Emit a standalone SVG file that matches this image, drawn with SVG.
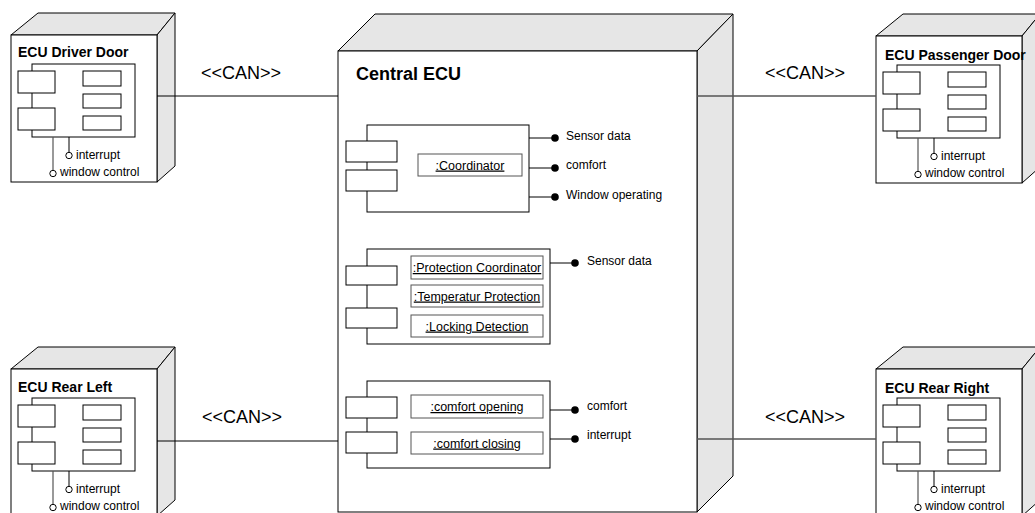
<svg xmlns="http://www.w3.org/2000/svg" xmlns:xlink="http://www.w3.org/1999/xlink" width="1035" height="513" viewBox="0 0 1035 513">
  <style>
    text { font-family: "Liberation Sans", Arial, sans-serif; fill: #000; }
    .face { fill: #e6e6e6; stroke: #000; stroke-width: 1; }
    .front { fill: #fff; stroke: #000; stroke-width: 1; }
    .box { fill: #fff; stroke: #000; stroke-width: 1; }
    .part { fill: #fff; stroke: #555; stroke-width: 1; }
    .wire { fill: none; stroke: #000; stroke-width: 1; }
    .wire2 { fill: none; stroke: #555; stroke-width: 1.2; }
    .req { fill: #fff; stroke: #000; stroke-width: 1; }
    .prov { fill: #000; stroke: none; }
    .title { font-size: 14px; font-weight: bold; }
    .big { font-size: 18px; font-weight: bold; }
    .stereo { font-size: 18px; }
    .port { font-size: 12px; }
    .lbl { font-size: 12.5px; text-anchor: middle; text-decoration: underline; }
    .link { fill: none; stroke: #000; stroke-width: 1; }
    .link2 { fill: none; stroke: #555; stroke-width: 1.3; }
  </style>
  <defs>
    <!-- door/rear ECU node body: 3D box with a component and two required interfaces -->
    <g id="ecuBody">
      <polygon class="face" points="11,35 38,13 175,13 157,35"/>
      <polygon class="face" points="157,35 175,13 175,166 157,182"/>
      <rect class="front" x="11" y="35" width="146" height="147"/>
      <rect class="box" x="32" y="64" width="103" height="73"/>
      <rect class="box" x="18" y="71" width="37" height="22"/>
      <rect class="box" x="18" y="108" width="37" height="22"/>
      <rect class="box" x="83" y="71" width="38" height="15"/>
      <rect class="box" x="83" y="94" width="38" height="14"/>
      <rect class="box" x="83" y="116" width="38" height="14"/>
      <line class="wire" x1="69" y1="137" x2="69" y2="152"/>
      <circle class="req" cx="69" cy="155.5" r="3.2"/>
      <line class="wire2" x1="53" y1="137" x2="53" y2="170"/>
      <circle class="req" cx="53" cy="173.5" r="3.2"/>
      <text class="port" x="76" y="159">interrupt</text>
      <text class="port" x="60" y="176">window control</text>
    </g>
  </defs>

  <g id="ecu-driver-door">
    <use xlink:href="#ecuBody"/>
    <text class="title" x="18" y="57">ECU Driver Door</text>
  </g>

  <g id="ecu-passenger-door" transform="translate(865,1)">
    <use xlink:href="#ecuBody"/>
    <text class="title" x="20" y="59">ECU Passenger Door</text>
  </g>

  <g id="ecu-rear-left" transform="translate(0,334)">
    <use xlink:href="#ecuBody"/>
    <text class="title" x="18" y="58">ECU Rear Left</text>
  </g>

  <g id="ecu-rear-right" transform="translate(865,334)">
    <use xlink:href="#ecuBody"/>
    <text class="title" x="20" y="59">ECU Rear Right</text>
  </g>

  <g id="central-ecu">
    <polygon class="face" points="338,51 375,14 733,14 697,51"/>
    <polygon class="face" points="697,51 733,14 733,476 697,512"/>
    <rect class="front" x="338" y="51" width="359" height="461"/>
    <text class="big" x="356" y="80">Central ECU</text>

    <!-- coordinator component -->
    <g id="coordinator">
      <rect class="box" x="367" y="125" width="162" height="87"/>
      <rect class="box" x="346" y="141" width="51" height="21"/>
      <rect class="box" x="346" y="170" width="51" height="21"/>
      <rect class="part" x="418" y="154" width="104" height="22"/>
      <text class="lbl" x="470" y="169.5">:Coordinator</text>
      <line class="wire" x1="529" y1="138" x2="555" y2="138"/>
      <circle class="prov" cx="555" cy="138" r="3.8"/>
      <line class="wire" x1="529" y1="168" x2="555" y2="168"/>
      <circle class="prov" cx="555" cy="168" r="3.8"/>
      <line class="wire" x1="529" y1="197" x2="555" y2="197"/>
      <circle class="prov" cx="555" cy="197" r="3.8"/>
      <text class="port" x="566" y="140">Sensor data</text>
      <text class="port" x="566" y="169">comfort</text>
      <text class="port" x="566" y="199">Window operating</text>
    </g>

    <!-- protection component -->
    <g id="protection">
      <rect class="box" x="367" y="249" width="183" height="95"/>
      <rect class="box" x="346" y="266" width="51" height="19"/>
      <rect class="box" x="346" y="308" width="51" height="20"/>
      <rect class="part" x="411" y="256" width="132" height="23"/>
      <rect class="part" x="411" y="285" width="132" height="22"/>
      <rect class="part" x="411" y="315" width="132" height="22"/>
      <text class="lbl" x="477" y="272">:Protection Coordinator</text>
      <text class="lbl" x="477" y="300.5">:Temperatur Protection</text>
      <text class="lbl" x="477" y="330.5">:Locking Detection</text>
      <line class="wire" x1="550" y1="263" x2="575" y2="263"/>
      <circle class="prov" cx="575" cy="263" r="3.8"/>
      <text class="port" x="587" y="265">Sensor data</text>
    </g>

    <!-- comfort component -->
    <g id="comfort">
      <rect class="box" x="367" y="381" width="183" height="87"/>
      <rect class="box" x="346" y="397" width="51" height="21"/>
      <rect class="box" x="346" y="432" width="51" height="21"/>
      <rect class="part" x="411" y="395" width="132" height="23"/>
      <rect class="part" x="411" y="432" width="132" height="22"/>
      <text class="lbl" x="477" y="411">:comfort opening</text>
      <text class="lbl" x="477" y="447.5">:comfort closing</text>
      <line class="wire" x1="550" y1="410" x2="575" y2="410"/>
      <circle class="prov" cx="575" cy="410" r="3.8"/>
      <line class="wire" x1="550" y1="439" x2="575" y2="439"/>
      <circle class="prov" cx="575" cy="439" r="3.8"/>
      <text class="port" x="587" y="410">comfort</text>
      <text class="port" x="587" y="439">interrupt</text>
    </g>
  </g>

  <!-- CAN links, drawn last so they run across the side faces of the boxes -->
  <g id="connectors">
    <line class="link" x1="157" y1="96" x2="338" y2="96"/>
    <line class="link2" x1="697" y1="96" x2="876" y2="96"/>
    <line class="link" x1="157" y1="441" x2="338" y2="441"/>
    <line class="link2" x1="697" y1="439" x2="876" y2="439"/>
    <text class="stereo" x="201" y="79">&lt;&lt;CAN&gt;&gt;</text>
    <text class="stereo" x="765" y="79">&lt;&lt;CAN&gt;&gt;</text>
    <text class="stereo" x="202" y="423">&lt;&lt;CAN&gt;&gt;</text>
    <text class="stereo" x="765" y="423">&lt;&lt;CAN&gt;&gt;</text>
  </g>
</svg>
